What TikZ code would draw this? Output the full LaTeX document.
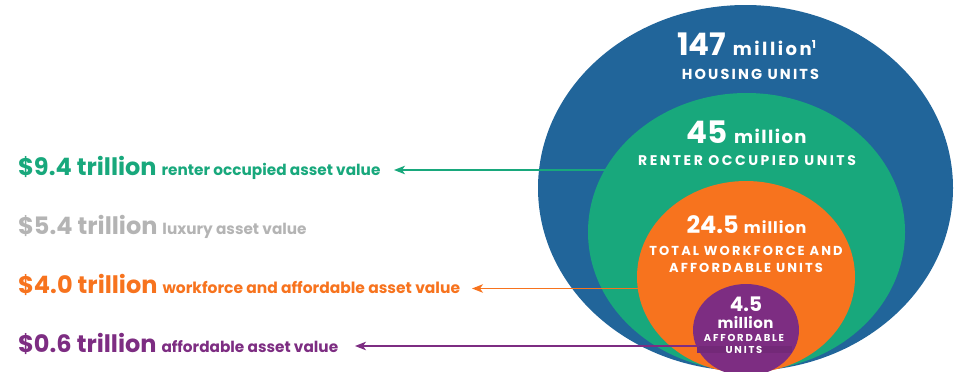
\documentclass[tikz,border=0pt]{standalone}
\usepackage{fontspec}
\setmainfont{Poppins}
\usetikzlibrary{arrows.meta,shapes.geometric}

\definecolor{hblue}{HTML}{21659A}
\definecolor{hgreen}{HTML}{18A87C}
\definecolor{horange}{HTML}{F7731E}
\definecolor{hpurple}{HTML}{7D2D82}
\definecolor{hgrey}{HTML}{B4B4B4}

\newcommand\setfs[1]{\fontsize{#1}{#1}\selectfont}
\newcommand\spacedcaps[3]{{\setfs{#1}\addfontfeature{LetterSpace=#2}#3}}

\begin{document}
\begin{tikzpicture}[x=1pt,y=-1pt,
  ring/.style={ellipse, inner sep=0pt, draw=none},
  figure/.style={anchor=base, text=white, font=\bfseries, inner sep=0pt},
  caption/.style={anchor=base, text=white, font=\bfseries, inner sep=0pt},
  valuerow/.style={anchor=base west, font=\bfseries, inner sep=0pt},
  conn/.style={line width=1.3pt, -{Stealth[length=11pt,width=8.5pt,inset=3pt]}}
]
\useasboundingbox (0,0) rectangle (961,372);

% nested unit counts
\begin{scope}
\clip (0,0) rectangle (961,372);
\node[ring, fill=hblue,   minimum width=415pt, minimum height=366pt] (housing)    at (745.5,188) {};
\node[ring, fill=hgreen,  minimum width=317pt, minimum height=278pt] (renter)     at (746.5,232) {};
\node[ring, fill=horange, minimum width=218pt, minimum height=192pt] (workforce)  at (746,277) {};
\node[ring, fill=hpurple, minimum width=106pt, minimum height=92pt]  (affordable) at (746,330) {};
\fill[hpurple!92!black] (697,345.5) rectangle (792,352.5);
\end{scope}

% connector end points
\coordinate (renterTap) at (604.5,170);
\coordinate (renterTip) at (394,170);
\coordinate (workTap) at (638,288.5);
\coordinate (workTip) at (472,288.5);
\coordinate (affTap) at (699,346);
\coordinate (affTip) at (355,346);

\draw[conn, hgreen]  (renterTap) -- (renterTip);
\draw[conn, horange] (workTap) -- (workTip);
\draw[conn, hpurple] (affTap) -- (affTip);

% texts inside the rings
\node[figure] (housingNum) at (746.5,55)
  {{\setfs{31}147 }{\setfs{18}\addfontfeature{LetterSpace=14}million\raisebox{6.5pt}{\setfs{11}1}}};
\node[caption] (housingCap) at (750.5,79) {\spacedcaps{14.5}{15}{HOUSING UNITS}};

\node[figure] (renterNum) at (746.5,143)
  {{\setfs{31}45 }{\setfs{18}\addfontfeature{LetterSpace=8}million}};
\node[caption] (renterCap) at (747,165) {\spacedcaps{14}{18}{RENTER OCCUPIED UNITS}};

\node[figure] (workNum) at (746.5,233)
  {{\setfs{24}24.5 }{\setfs{16}\addfontfeature{LetterSpace=6}million}};
\node[caption] (workCap1) at (746,255) {\spacedcaps{13}{16}{TOTAL WORKFORCE AND}};
\node[caption] (workCap2) at (746,272) {\spacedcaps{13}{16}{AFFORDABLE UNITS}};

\node[figure] (affNum) at (746,311) {\setfs{20}4.5};
\node[figure] (affMil) at (745.5,328) {\setfs{15}\addfontfeature{LetterSpace=3}million};
\node[caption] (affCap1) at (744,341) {\spacedcaps{10}{18}{AFFORDABLE}};
\node[caption] (affCap2) at (744,353) {\spacedcaps{10}{18}{UNITS}};

% asset value rows
\node[valuerow, text=hgreen] (renterLbl) at (18,175)
  {{\setfs{24}\$9.4 trillion}\hspace{5pt}{\setfs{15.3}renter occupied asset value}};
\node[valuerow, text=hgrey] (luxuryLbl) at (18,234)
  {{\setfs{24}\$5.4 trillion}\hspace{5pt}{\setfs{15.3}luxury asset value}};
\node[valuerow, text=horange] (workLbl) at (18,293)
  {{\setfs{24}\$4.0 trillion}\hspace{5pt}{\setfs{15.5}workforce and affordable asset value}};
\node[valuerow, text=hpurple] (affLbl) at (18,352)
  {{\setfs{24}\$0.6 trillion}\hspace{5pt}{\setfs{15.3}affordable asset value}};
\end{tikzpicture}
\end{document}
